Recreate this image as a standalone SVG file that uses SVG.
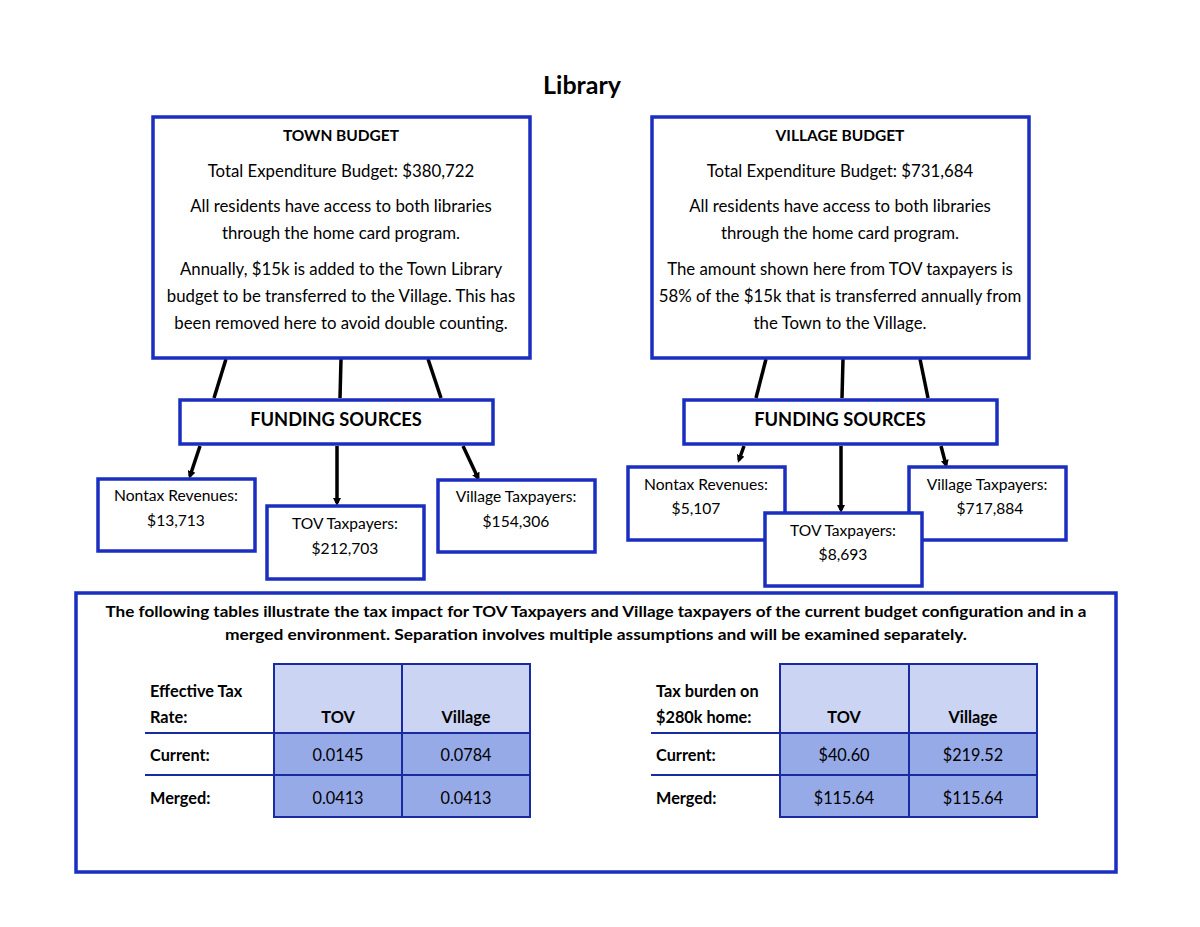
<svg xmlns="http://www.w3.org/2000/svg" width="1200" height="927" viewBox="0 0 1200 927">
<defs>
<marker id="ah" markerWidth="8" markerHeight="8" refX="5" refY="4" orient="auto" markerUnits="userSpaceOnUse" viewBox="0 0 8 8">
<path d="M0,0 L8,4 L0,8 z" fill="#000"/>
</marker>
<style>
.box{fill:#fff;stroke:#1a2ec0;stroke-width:3.5}
.t{font-family:Lato,"Liberation Sans",sans-serif;fill:#000;text-anchor:middle}
.b{font-weight:bold}
.body{font-size:16.8px}
.leaf{font-size:15.6px}
.conn{stroke:#000;stroke-width:3.5;fill:none}
.hdr{fill:#cbd4f3}
.dat{fill:#97aae8}
.grid{stroke:#1a2aa0;stroke-width:2;fill:none}
.lbl{font-family:Lato,"Liberation Sans",sans-serif;font-size:16.3px;font-weight:bold;fill:#000}
.val{font-family:Lato,"Liberation Sans",sans-serif;font-size:16.3px;fill:#000;text-anchor:middle}
</style>
</defs>
<rect width="1200" height="927" fill="#fff"/>
<text class="t b" x="582" y="94" font-size="25">Library</text>

<g id="connectors">
<line class="conn" x1="226" y1="359" x2="214" y2="398"/>
<line class="conn" x1="341" y1="359" x2="340" y2="398"/>
<line class="conn" x1="428" y1="359" x2="441" y2="398"/>
<line class="conn" x1="200" y1="446" x2="190" y2="476" marker-end="url(#ah)"/>
<line class="conn" x1="337" y1="446" x2="337" y2="503" marker-end="url(#ah)"/>
<line class="conn" x1="463" y1="446" x2="478" y2="478" marker-end="url(#ah)"/>
<line class="conn" x1="766" y1="359" x2="756" y2="398"/>
<line class="conn" x1="843" y1="359" x2="842" y2="398"/>
<line class="conn" x1="920" y1="359" x2="928" y2="398"/>
<line class="conn" x1="744" y1="446" x2="739" y2="460" marker-end="url(#ah)"/>
<line class="conn" x1="841" y1="446" x2="841" y2="510" marker-end="url(#ah)"/>
<line class="conn" x1="941" y1="446" x2="946" y2="465" marker-end="url(#ah)"/>
</g>

<g id="town-budget">
<rect class="box" x="153" y="117" width="377" height="241"/>
<text class="t b" x="341" y="141" font-size="15.5">TOWN BUDGET</text>
<text class="t body" x="341" y="177">Total Expenditure Budget: $380,722</text>
<text class="t body" x="341" y="212">All residents have access to both libraries</text>
<text class="t body" x="341" y="239">through the home card program.</text>
<text class="t body" x="341" y="275">Annually, $15k is added to the Town Library</text>
<text class="t body" x="341" y="302">budget to be transferred to the Village.  This has</text>
<text class="t body" x="341" y="329">been removed here to avoid double counting.</text>
</g>

<g id="village-budget">
<rect class="box" x="652" y="117" width="377" height="241"/>
<text class="t b" x="840" y="141" font-size="15.5">VILLAGE BUDGET</text>
<text class="t body" x="840" y="177">Total Expenditure Budget: $731,684</text>
<text class="t body" x="840" y="212">All residents have access to both libraries</text>
<text class="t body" x="840" y="239">through the home card program.</text>
<text class="t body" x="840" y="275">The amount shown here from TOV taxpayers is</text>
<text class="t body" x="840" y="302">58% of the $15k that is transferred annually from</text>
<text class="t body" x="840" y="329">the Town to the Village.</text>
</g>

<g id="town-funding">
<rect class="box" x="180" y="400" width="313" height="44"/>
<text class="t b" x="336" y="426" font-size="18.3">FUNDING SOURCES</text>
</g>
<g id="village-funding">
<rect class="box" x="684" y="400" width="313" height="44"/>
<text class="t b" x="840" y="426" font-size="18.3">FUNDING SOURCES</text>
</g>

<g id="town-nontax">
<rect class="box" x="98" y="479" width="157" height="72"/>
<text class="t leaf" x="176" y="501">Nontax Revenues:</text>
<text class="t leaf" x="176" y="526">$13,713</text>
</g>
<g id="town-tov">
<rect class="box" x="267" y="506" width="157" height="73"/>
<text class="t leaf" x="345" y="529">TOV Taxpayers:</text>
<text class="t leaf" x="345" y="554">$212,703</text>
</g>
<g id="town-village">
<rect class="box" x="438" y="480" width="157" height="72"/>
<text class="t leaf" x="516" y="502">Village Taxpayers:</text>
<text class="t leaf" x="516" y="527">$154,306</text>
</g>

<g id="village-nontax">
<rect class="box" x="628" y="467" width="157" height="73"/>
<text class="t leaf" x="706" y="490">Nontax Revenues:</text>
<text class="t leaf" x="696" y="514">$5,107</text>
</g>
<g id="village-village">
<rect class="box" x="909" y="467" width="157" height="73"/>
<text class="t leaf" x="987" y="490">Village Taxpayers:</text>
<text class="t leaf" x="990" y="514">$717,884</text>
</g>
<g id="village-tov">
<rect class="box" x="765" y="513" width="157" height="73"/>
<text class="t leaf" x="843" y="536">TOV Taxpayers:</text>
<text class="t leaf" x="843" y="560">$8,693</text>
</g>

<g id="tax-impact">
<rect class="box" x="76" y="593" width="1040" height="279"/>
<text class="t b" x="596" y="617" font-size="15" textLength="981" lengthAdjust="spacingAndGlyphs">The following tables illustrate the tax impact for TOV Taxpayers and Village taxpayers of the current budget configuration and in a</text>
<text class="t b" x="596" y="640" font-size="15" textLength="742" lengthAdjust="spacingAndGlyphs">merged environment.  Separation involves multiple assumptions and will be examined separately.</text>

<g id="rate-table">
<rect class="hdr" x="274" y="664" width="256" height="69"/>
<rect class="dat" x="274" y="733" width="256" height="84"/>
<rect class="grid" x="274" y="664" width="256" height="153"/>
<line class="grid" x1="402" y1="664" x2="402" y2="817"/>
<line class="grid" x1="145" y1="733" x2="530" y2="733"/>
<line class="grid" x1="145" y1="775" x2="530" y2="775"/>
<text class="lbl" x="150" y="697">Effective Tax</text>
<text class="lbl" x="150" y="723">Rate:</text>
<text class="val b" x="338" y="723">TOV</text>
<text class="val b" x="466" y="723">Village</text>
<text class="lbl" x="150" y="761">Current:</text>
<text class="val" x="338" y="761">0.0145</text>
<text class="val" x="466" y="761">0.0784</text>
<text class="lbl" x="150" y="804">Merged:</text>
<text class="val" x="338" y="804">0.0413</text>
<text class="val" x="466" y="804">0.0413</text>
</g>

<g id="burden-table">
<rect class="hdr" x="780" y="664" width="257" height="69"/>
<rect class="dat" x="780" y="733" width="257" height="84"/>
<rect class="grid" x="780" y="664" width="257" height="153"/>
<line class="grid" x1="909" y1="664" x2="909" y2="817"/>
<line class="grid" x1="651" y1="733" x2="1037" y2="733"/>
<line class="grid" x1="651" y1="775" x2="1037" y2="775"/>
<text class="lbl" x="656" y="697">Tax burden on</text>
<text class="lbl" x="656" y="723">$280k home:</text>
<text class="val b" x="844" y="723">TOV</text>
<text class="val b" x="973" y="723">Village</text>
<text class="lbl" x="656" y="761">Current:</text>
<text class="val" x="844" y="761">$40.60</text>
<text class="val" x="973" y="761">$219.52</text>
<text class="lbl" x="656" y="804">Merged:</text>
<text class="val" x="844" y="804">$115.64</text>
<text class="val" x="973" y="804">$115.64</text>
</g>
</g>
</svg>
